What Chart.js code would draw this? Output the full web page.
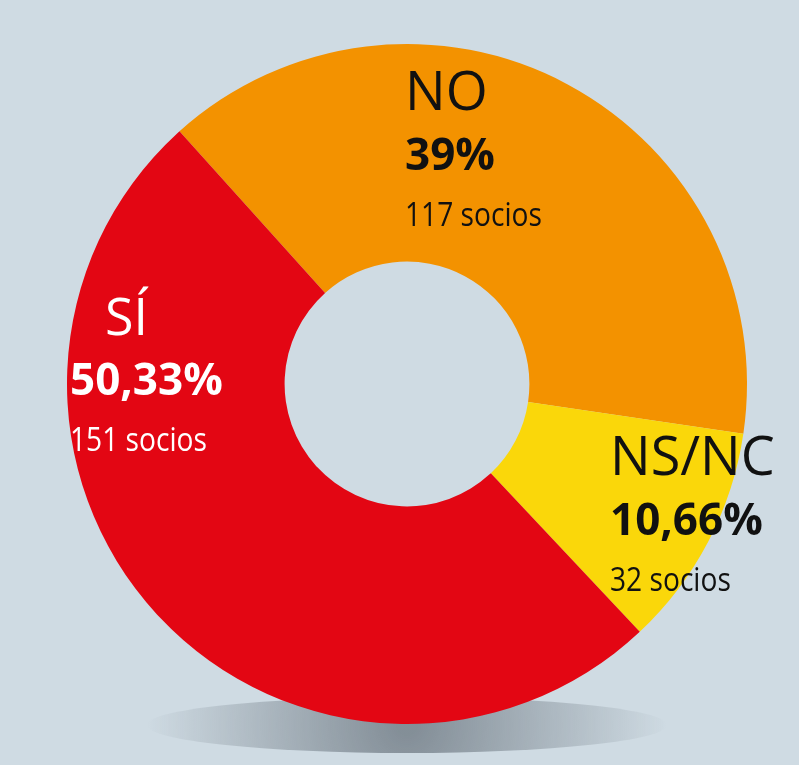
<!DOCTYPE html>
<html>
<head>
<meta charset="utf-8">
<script src="https://cdn.jsdelivr.net/npm/chart.js"></script>
<style>
  html, body { margin: 0; padding: 0; background: #cfdbe3; }
  #wrap { width: 799px; height: 765px; position: relative; }
</style>
</head>
<body>
<div id="wrap"><canvas id="chart"></canvas></div>
<script>
// data
const categories = ['NO', 'NS/NC', 'SÍ'];
const shares = [39, 10.66, 50.33];
const shareLabels = ['39%', '10,66%', '50,33%'];
const members = ['117 socios', '32 socios', '151 socios'];
const colors = ['#f39200', '#fad70a', '#e30613'];

// label spots: [x, y of name baseline, text colour]
const labelSpots = [
  [405, 110, '#111'],
  [610, 475, '#111'],
  [70, 335, '#fff']
];

const shadowPlugin = {
  id: 'shadow',
  beforeDatasetsDraw(chart) {
    const ctx = chart.ctx;
    ctx.save();
    const g = ctx.createRadialGradient(407, 725, 10, 407, 725, 260);
    g.addColorStop(0, 'rgba(70,80,90,0.55)');
    g.addColorStop(1, 'rgba(70,80,90,0)');
    ctx.fillStyle = g;
    ctx.beginPath();
    ctx.ellipse(407, 725, 260, 28, 0, 0, Math.PI * 2);
    ctx.fill();
    ctx.restore();
  }
};

const textPlugin = {
  id: 'texts',
  afterDatasetsDraw(chart) {
    const ctx = chart.ctx;
    ctx.save();
    ctx.textAlign = 'left';
    ctx.textBaseline = 'alphabetic';
    categories.forEach((name, i) => {
      const [x, y, col] = labelSpots[i];
      ctx.fillStyle = col;
      ctx.font = (i === 2 ? '52px' : '54px') + ' "Open Sans", sans-serif';
      ctx.fillText(name, i === 2 ? x + 35 : x, y);
      ctx.font = 'bold 44px "Open Sans", sans-serif';
      ctx.fillText(shareLabels[i], x, y + 60);
      ctx.font = '32px "Open Sans", sans-serif';
      ctx.save();
      ctx.translate(x, y + 116);
      ctx.scale(0.88, 1);
      ctx.fillText(members[i], 0, 0);
      ctx.restore();
    });
    ctx.restore();
  }
};

new Chart(document.getElementById('chart'), {
  type: 'doughnut',
  data: {
    labels: categories,
    datasets: [{
      data: shares,
      backgroundColor: colors,
      borderWidth: 0
    }]
  },
  options: {
    responsive: true,
    maintainAspectRatio: false,
    animation: false,
    rotation: -42,
    cutout: '36%',
    layout: { padding: { left: 67, right: 52, top: 44, bottom: 41 } },
    plugins: {
      legend: { display: false },
      tooltip: { enabled: false }
    }
  },
  plugins: [shadowPlugin, textPlugin]
});
</script>
</body>
</html>
